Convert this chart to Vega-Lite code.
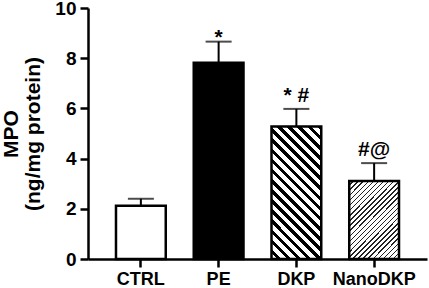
{
  "$schema": "https://vega.github.io/schema/vega-lite/v6.json",
  "width": 339,
  "height": 251,
  "autosize": "none",
  "padding": {"left": 88, "top": 8, "right": 2, "bottom": 29},
  "background": "white",
  "config": {"view": {"stroke": null}, "font": "Liberation Sans"},
  "data": {"values": [
    {"group": "CTRL", "mean": 2.12, "upper": 2.40, "sig": ""},
    {"group": "PE", "mean": 7.82, "upper": 8.66, "sig": "*"},
    {"group": "DKP", "mean": 5.28, "upper": 5.98, "sig": "* #"},
    {"group": "NanoDKP", "mean": 3.11, "upper": 3.82, "sig": "#@"}
  ]},
  "encoding": {
    "x": {
      "field": "group", "type": "nominal", "sort": null,
      "scale": {"paddingInner": 0.36, "paddingOuter": 0.36},
      "axis": {
        "title": null, "labelAngle": 0, "labelFont": "Liberation Sans", "labelFontSize": 18,
        "labelFontWeight": "bold", "labelColor": "black", "domainColor": "black", "domainWidth": 2.5,
        "tickColor": "black", "tickWidth": 2.5, "tickSize": 8, "labelPadding": 3, "grid": false
      }
    }
  },
  "layer": [
    {
      "mark": {"type": "bar", "stroke": "black", "strokeWidth": 2.5},
      "encoding": {
        "y": {
          "field": "mean", "type": "quantitative",
          "scale": {"domain": [0, 10], "nice": false},
          "axis": {
            "values": [0, 2, 4, 6, 8, 10], "title": ["MPO", "(ng/mg protein)"],
            "titleFont": "Liberation Sans", "titleFontSize": 21, "titleFontWeight": "bold", "titleColor": "black",
            "titlePadding": 11, "titleLineHeight": 22,
            "labelFont": "Liberation Sans", "labelFontSize": 19, "labelFontWeight": "bold", "labelColor": "black",
            "labelPadding": 4, "tickSize": 8, "tickWidth": 2.5, "tickColor": "black",
            "domainWidth": 2.5, "domainColor": "black", "grid": false
          }
        },
        "fill": {
          "condition": [
            {"test": "datum.group === 'PE'", "value": "black"},
            {"test": "datum.group === 'DKP'", "value": {
              "gradient": "linear", "x1": 0, "y1": 1, "x2": 0.4532, "y2": -0.2055,
              "stops": [
                {"offset": 0, "color": "white"},
                {"offset": 0.0306, "color": "white"}, {"offset": 0.0306, "color": "black"}, {"offset": 0.0556, "color": "black"}, {"offset": 0.0556, "color": "white"},
                {"offset": 0.0861, "color": "white"}, {"offset": 0.0861, "color": "black"}, {"offset": 0.1111, "color": "black"}, {"offset": 0.1111, "color": "white"},
                {"offset": 0.1417, "color": "white"}, {"offset": 0.1417, "color": "black"}, {"offset": 0.1667, "color": "black"}, {"offset": 0.1667, "color": "white"},
                {"offset": 0.1972, "color": "white"}, {"offset": 0.1972, "color": "black"}, {"offset": 0.2222, "color": "black"}, {"offset": 0.2222, "color": "white"},
                {"offset": 0.2528, "color": "white"}, {"offset": 0.2528, "color": "black"}, {"offset": 0.2778, "color": "black"}, {"offset": 0.2778, "color": "white"},
                {"offset": 0.3083, "color": "white"}, {"offset": 0.3083, "color": "black"}, {"offset": 0.3333, "color": "black"}, {"offset": 0.3333, "color": "white"},
                {"offset": 0.3639, "color": "white"}, {"offset": 0.3639, "color": "black"}, {"offset": 0.3889, "color": "black"}, {"offset": 0.3889, "color": "white"},
                {"offset": 0.4194, "color": "white"}, {"offset": 0.4194, "color": "black"}, {"offset": 0.4444, "color": "black"}, {"offset": 0.4444, "color": "white"},
                {"offset": 0.4750, "color": "white"}, {"offset": 0.4750, "color": "black"}, {"offset": 0.5, "color": "black"}, {"offset": 0.5, "color": "white"},
                {"offset": 0.5306, "color": "white"}, {"offset": 0.5306, "color": "black"}, {"offset": 0.5556, "color": "black"}, {"offset": 0.5556, "color": "white"},
                {"offset": 0.5861, "color": "white"}, {"offset": 0.5861, "color": "black"}, {"offset": 0.6111, "color": "black"}, {"offset": 0.6111, "color": "white"},
                {"offset": 0.6417, "color": "white"}, {"offset": 0.6417, "color": "black"}, {"offset": 0.6667, "color": "black"}, {"offset": 0.6667, "color": "white"},
                {"offset": 0.6972, "color": "white"}, {"offset": 0.6972, "color": "black"}, {"offset": 0.7222, "color": "black"}, {"offset": 0.7222, "color": "white"},
                {"offset": 0.7528, "color": "white"}, {"offset": 0.7528, "color": "black"}, {"offset": 0.7778, "color": "black"}, {"offset": 0.7778, "color": "white"},
                {"offset": 0.8083, "color": "white"}, {"offset": 0.8083, "color": "black"}, {"offset": 0.8333, "color": "black"}, {"offset": 0.8333, "color": "white"},
                {"offset": 0.8639, "color": "white"}, {"offset": 0.8639, "color": "black"}, {"offset": 0.8889, "color": "black"}, {"offset": 0.8889, "color": "white"},
                {"offset": 0.9194, "color": "white"}, {"offset": 0.9194, "color": "black"}, {"offset": 0.9444, "color": "black"}, {"offset": 0.9444, "color": "white"},
                {"offset": 0.9750, "color": "white"}, {"offset": 0.9750, "color": "black"}, {"offset": 1, "color": "black"}
              ]
            }},
            {"test": "datum.group === 'NanoDKP'", "value": {
              "gradient": "linear", "x1": 0, "y1": 0, "x2": 0.748, "y2": 1.162,
              "stops": [
                {"offset": 0, "color": "white"},
                {"offset": 0.028, "color": "white"}, {"offset": 0.028, "color": "#222222"}, {"offset": 0.04, "color": "#222222"}, {"offset": 0.04, "color": "white"},
                {"offset": 0.068, "color": "white"}, {"offset": 0.068, "color": "#222222"}, {"offset": 0.08, "color": "#222222"}, {"offset": 0.08, "color": "white"},
                {"offset": 0.108, "color": "white"}, {"offset": 0.108, "color": "#222222"}, {"offset": 0.12, "color": "#222222"}, {"offset": 0.12, "color": "white"},
                {"offset": 0.148, "color": "white"}, {"offset": 0.148, "color": "#222222"}, {"offset": 0.16, "color": "#222222"}, {"offset": 0.16, "color": "white"},
                {"offset": 0.188, "color": "white"}, {"offset": 0.188, "color": "#222222"}, {"offset": 0.2, "color": "#222222"}, {"offset": 0.2, "color": "white"},
                {"offset": 0.228, "color": "white"}, {"offset": 0.228, "color": "#222222"}, {"offset": 0.24, "color": "#222222"}, {"offset": 0.24, "color": "white"},
                {"offset": 0.268, "color": "white"}, {"offset": 0.268, "color": "#222222"}, {"offset": 0.28, "color": "#222222"}, {"offset": 0.28, "color": "white"},
                {"offset": 0.308, "color": "white"}, {"offset": 0.308, "color": "#222222"}, {"offset": 0.32, "color": "#222222"}, {"offset": 0.32, "color": "white"},
                {"offset": 0.348, "color": "white"}, {"offset": 0.348, "color": "#222222"}, {"offset": 0.36, "color": "#222222"}, {"offset": 0.36, "color": "white"},
                {"offset": 0.388, "color": "white"}, {"offset": 0.388, "color": "#222222"}, {"offset": 0.4, "color": "#222222"}, {"offset": 0.4, "color": "white"},
                {"offset": 0.428, "color": "white"}, {"offset": 0.428, "color": "#222222"}, {"offset": 0.44, "color": "#222222"}, {"offset": 0.44, "color": "white"},
                {"offset": 0.468, "color": "white"}, {"offset": 0.468, "color": "#222222"}, {"offset": 0.48, "color": "#222222"}, {"offset": 0.48, "color": "white"},
                {"offset": 0.508, "color": "white"}, {"offset": 0.508, "color": "#222222"}, {"offset": 0.52, "color": "#222222"}, {"offset": 0.52, "color": "white"},
                {"offset": 0.548, "color": "white"}, {"offset": 0.548, "color": "#222222"}, {"offset": 0.56, "color": "#222222"}, {"offset": 0.56, "color": "white"},
                {"offset": 0.588, "color": "white"}, {"offset": 0.588, "color": "#222222"}, {"offset": 0.6, "color": "#222222"}, {"offset": 0.6, "color": "white"},
                {"offset": 0.628, "color": "white"}, {"offset": 0.628, "color": "#222222"}, {"offset": 0.64, "color": "#222222"}, {"offset": 0.64, "color": "white"},
                {"offset": 0.668, "color": "white"}, {"offset": 0.668, "color": "#222222"}, {"offset": 0.68, "color": "#222222"}, {"offset": 0.68, "color": "white"},
                {"offset": 0.708, "color": "white"}, {"offset": 0.708, "color": "#222222"}, {"offset": 0.72, "color": "#222222"}, {"offset": 0.72, "color": "white"},
                {"offset": 0.748, "color": "white"}, {"offset": 0.748, "color": "#222222"}, {"offset": 0.76, "color": "#222222"}, {"offset": 0.76, "color": "white"},
                {"offset": 0.788, "color": "white"}, {"offset": 0.788, "color": "#222222"}, {"offset": 0.8, "color": "#222222"}, {"offset": 0.8, "color": "white"},
                {"offset": 0.828, "color": "white"}, {"offset": 0.828, "color": "#222222"}, {"offset": 0.84, "color": "#222222"}, {"offset": 0.84, "color": "white"},
                {"offset": 0.868, "color": "white"}, {"offset": 0.868, "color": "#222222"}, {"offset": 0.88, "color": "#222222"}, {"offset": 0.88, "color": "white"},
                {"offset": 0.908, "color": "white"}, {"offset": 0.908, "color": "#222222"}, {"offset": 0.92, "color": "#222222"}, {"offset": 0.92, "color": "white"},
                {"offset": 0.948, "color": "white"}, {"offset": 0.948, "color": "#222222"}, {"offset": 0.96, "color": "#222222"}, {"offset": 0.96, "color": "white"},
                {"offset": 0.988, "color": "white"}, {"offset": 0.988, "color": "#222222"}, {"offset": 1, "color": "#222222"}
              ]
            }}
          ],
          "value": "white"
        }
      }
    },
    {
      "mark": {"type": "rule", "color": "black", "strokeWidth": 2},
      "encoding": {
        "y": {"field": "mean", "type": "quantitative"},
        "y2": {"field": "upper"}
      }
    },
    {
      "mark": {"type": "tick", "color": "black", "size": 26, "thickness": 2},
      "encoding": {
        "y": {"field": "upper", "type": "quantitative"}
      }
    },
    {
      "transform": [{"filter": "datum.group !== 'PE'"}],
      "mark": {"type": "text", "baseline": "alphabetic", "dy": -7, "fontSize": 21, "fontWeight": "bold", "font": "Liberation Sans", "color": "black"},
      "encoding": {
        "y": {"field": "upper", "type": "quantitative"},
        "text": {"field": "sig"}
      }
    },
    {
      "transform": [{"filter": "datum.group === 'PE'"}],
      "mark": {"type": "text", "baseline": "alphabetic", "dy": 2, "fontSize": 21, "fontWeight": "bold", "font": "Liberation Sans", "color": "black"},
      "encoding": {
        "y": {"field": "upper", "type": "quantitative"},
        "text": {"field": "sig"}
      }
    }
  ]
}
